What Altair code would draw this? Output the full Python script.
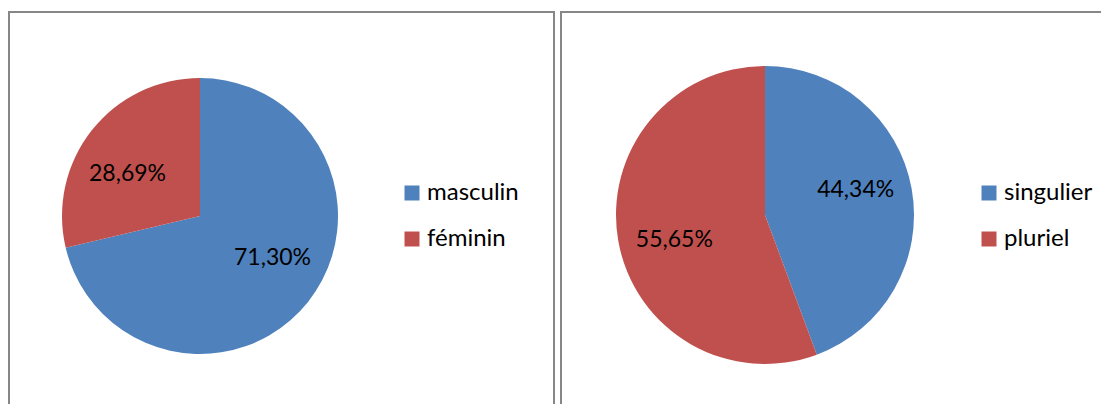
import altair as alt
import pandas as pd

# Data
genre_cats = ["masculin", "féminin"]
genre_vals = [71.30, 28.69]
nombre_cats = ["singulier", "pluriel"]
nombre_vals = [44.34, 55.65]
blue = "#4F81BD"
red = "#C0504D"
FONT = "Lato"

def mk(cats, vals):
    return pd.DataFrame({
        "cat": cats,
        "value": vals,
        "ord": list(range(len(cats))),
        "label": [f"{v:.2f}".replace(".", ",") + "%" for v in vals],
    })

df_l = mk(genre_cats, genre_vals)
df_r = mk(nombre_cats, nombre_vals)

W, H = 1093, 396

borders = alt.Chart(pd.DataFrame({"k": [0]})).mark_rect(
    filled=False, stroke="#878787", strokeWidth=2
)
border_l = borders.encode(x=alt.value(1), x2=alt.value(546), y=alt.value(4), y2=alt.value(430))
border_r = borders.encode(x=alt.value(553), x2=alt.value(1130), y=alt.value(4), y2=alt.value(430))

def pie(df, cx, cy, r, lx, ly, tr, toff):
    base = alt.Chart(df)
    arc = base.mark_arc(radius=r, stroke=None).encode(
        theta=alt.Theta("value:Q", stack=True),
        order=alt.Order("ord:Q"),
        color=alt.Color(
            "cat:N",
            scale=alt.Scale(domain=list(df["cat"]), range=[blue, red]),
            sort=list(df["cat"]),
            legend=alt.Legend(
                title=None, orient="none", legendX=lx, legendY=ly,
                symbolType="square", symbolSize=225, symbolStrokeWidth=0,
                labelFont=FONT, labelFontSize=24, labelColor="#000000",
                rowPadding=22, labelOffset=3, padding=0,
            ),
        ),
        x=alt.value(cx), y=alt.value(cy),
    )
    txt = base.mark_text(radius=tr, thetaOffset=toff, font=FONT, fontSize=23, color="#000000").encode(
        theta=alt.Theta("value:Q", stack=True),
        order=alt.Order("ord:Q"),
        text="label:N",
        x=alt.value(cx), y=alt.value(cy),
    )
    return arc, txt

arc_l, txt_l = pie(df_l, 192, 208, 138, 392, 173, 84, -0.14)
arc_r, txt_r = pie(df_r, 757, 207, 149, 969, 173, 94, -0.09)

chart = alt.layer(border_l, border_r, arc_l, txt_l, arc_r, txt_r).resolve_scale(
    theta="independent", color="independent"
).properties(
    width=W, height=H, autosize=alt.AutoSizeParams(type="none"), padding=0
).configure_view(stroke=None)

chart.save("out.html", embed_options={"renderer": "svg", "actions": False})
